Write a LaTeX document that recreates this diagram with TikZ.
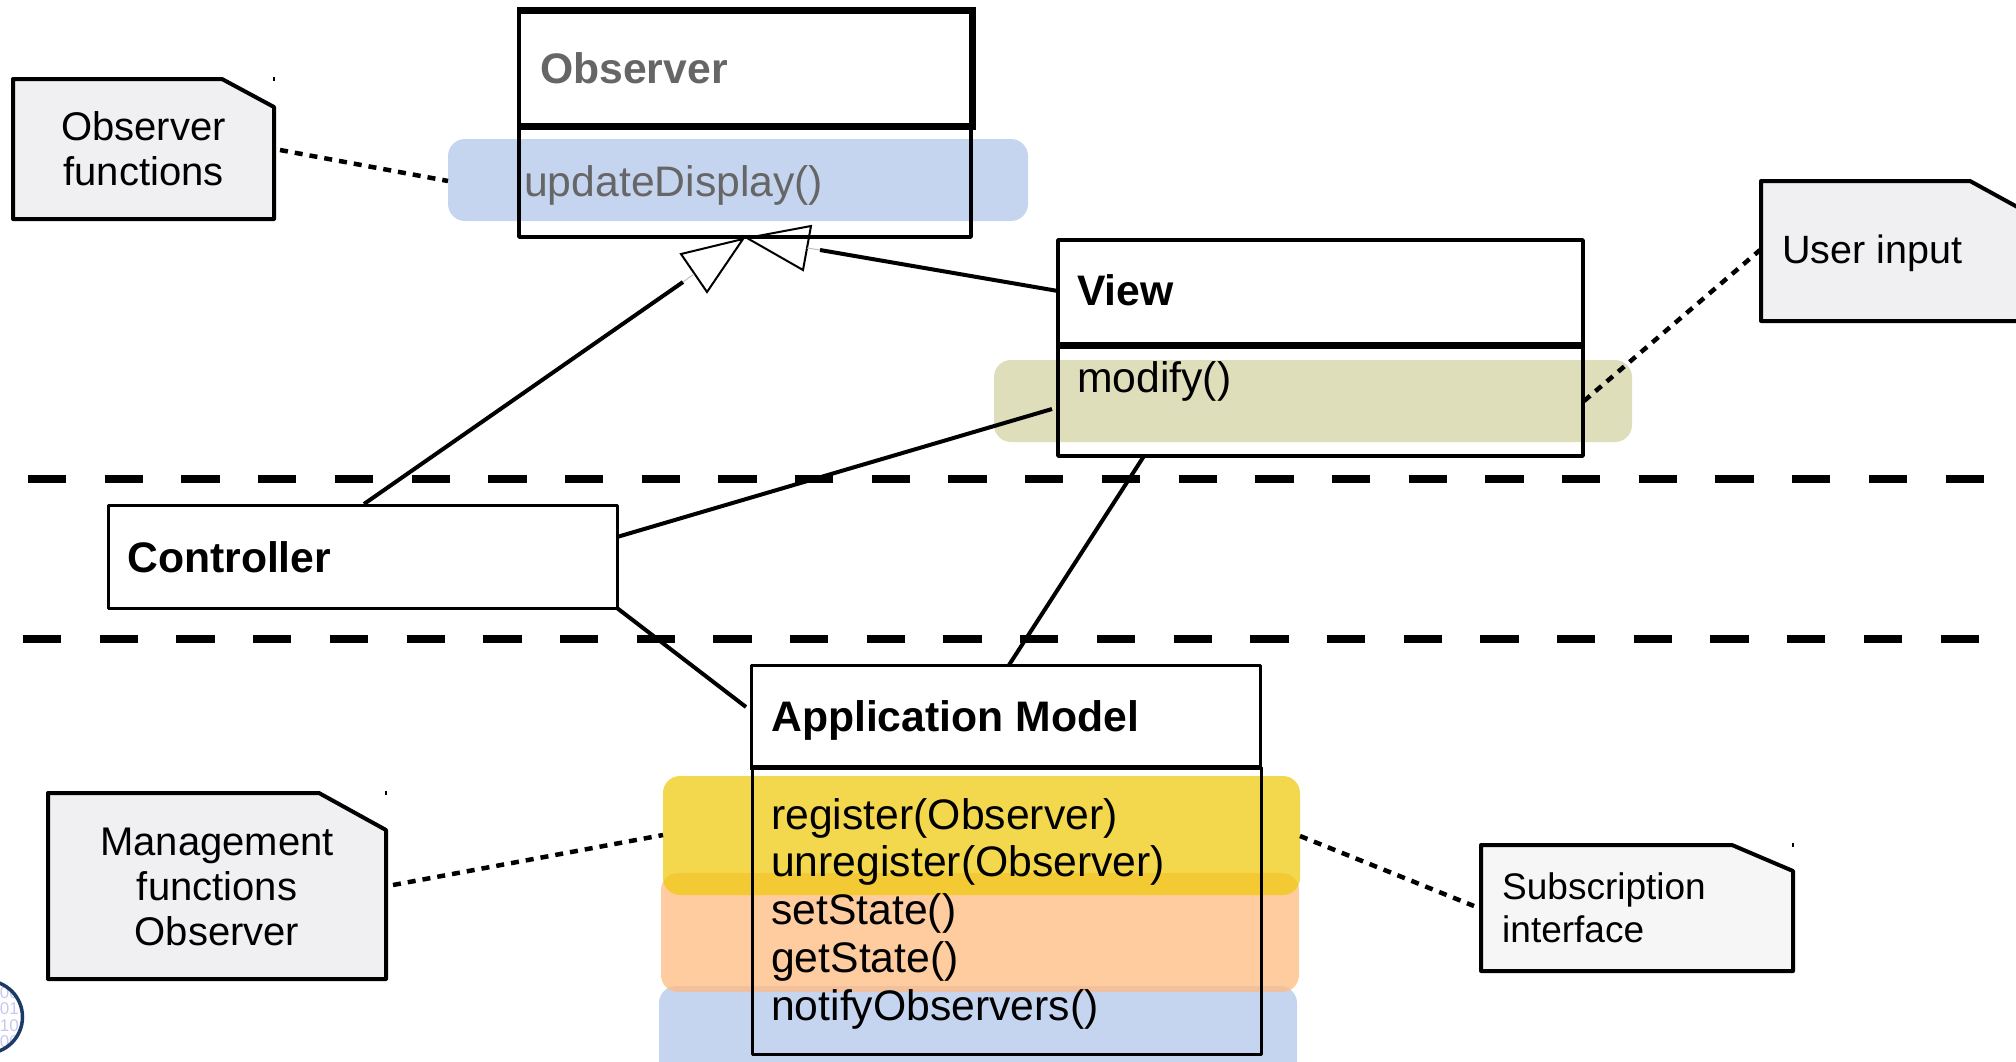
\documentclass[tikz,border=0pt]{standalone}
\usepackage{fontspec}
\setmainfont{Liberation Sans}
\usepackage{tikz}
\usetikzlibrary{positioning,calc}
\definecolor{notegrey}{HTML}{F0F0F3}
\definecolor{notelight}{HTML}{F6F6F6}
\definecolor{hiblue}{HTML}{B2C7EB}
\definecolor{hiolive}{HTML}{D3D3A4}
\definecolor{hiyellow}{HTML}{EFCA10}
\definecolor{hiorange}{HTML}{FFBB80}
\definecolor{logoblue}{HTML}{1B3A66}
\definecolor{logotext}{HTML}{C8C8F0}
\tikzset{
    classbox/.style={rectangle,draw,line width=3.5pt,inner sep=0pt,line join=round},
    headbox/.style={classbox,fill=white},
    notebox/.style={line width=4pt,line join=round,draw=black},
    notetick/.style={line width=1.5pt},
    notetext/.style={rectangle,inner sep=0pt,align=center,font=\fontsize{40}{45}\selectfont},
    title/.style={anchor=base west,inner sep=0pt,font=\fontsize{42.7}{48}\selectfont\bfseries},
    method/.style={anchor=base west,inner sep=0pt,font=\fontsize{42.7}{48}\selectfont},
    hilite/.style={rounded corners=17pt,opacity=0.75},
    assoc/.style={line width=4pt},
    ghost/.style={line width=1pt,black!25},
    dotline/.style={line width=4.5pt,dash pattern=on 8pt off 7pt},
    sepline/.style={line width=8pt,dash pattern=on 38.35pt off 38.35pt},
    inherit/.style={draw,fill=white,line width=2pt,line join=miter},
}
\begin{document}
\begin{tikzpicture}[x=1pt,y=-1pt]
    \clip (0,0) rectangle (2016,1061);
    % highlights
    \fill[hiblue,hilite] (448,139) rectangle (1028,221);
    \fill[hiolive,hilite] (994,360) rectangle (1632,442);
    \fill[hiblue,hilite] (659,986) rectangle (1297,1090);
    \fill[hiorange,hilite] (661,873) rectangle (1299,992);
    \fill[hiyellow,hilite] (663,776) rectangle (1300,895);

    % arrow heads go under the class frame
    \coordinate (ctrltip) at (743,239);
    \coordinate (viewtip) at (747,238);
    \coordinate (ctrla) at (681,254);
    \coordinate (ctrlb) at (707,292);
    \coordinate (viewa) at (811,226);
    \coordinate (viewb) at (803,270);
    \draw[inherit] (viewtip) -- (viewa) -- (viewb) -- cycle;
    \draw[inherit] (ctrltip) -- (ctrla) -- (ctrlb) -- cycle;

    % classes
    \node[headbox,minimum width=452pt,minimum height=113pt] (observer) at (745,68.5) {};
    \node[classbox,minimum width=452pt,minimum height=112pt] (observerops) at (745,181) {};
    \node[headbox,minimum width=525pt,minimum height=104pt] (view) at (1320.5,292) {};
    \node[classbox,minimum width=525pt,minimum height=112pt] (viewops) at (1320.5,400) {};
    \node[headbox,line width=3pt,minimum width=509pt,minimum height=103pt] (controller) at (362.5,556.5) {};
    \node[headbox,line width=3pt,minimum width=509pt,minimum height=101pt] (model) at (1005.5,715.5) {};
    \node[classbox,line width=3pt,minimum width=509pt,minimum height=287pt] (modelops) at (1006.5,910.5) {};
    \draw[line width=6pt] (observer.north west) -- (observer.north east) -- (observer.south east) -- (observer.south west);
    \draw[line width=6pt] (view.south west) -- (view.south east);
    \draw[line width=5pt] (model.south west) -- (model.south east);

    \node[title,text=black!60] (observertitle) at (540,83) {Observer};
    \node[method,text=black!60] (update) at (524,196) {updateDisplay()};
    \node[title] (viewtitle) at (1077,305) {View};
    \node[method] (modify) at (1077,392) {modify()};
    \node[title] (controllertitle) at (127,572) {Controller};
    \node[title] (modeltitle) at (771,731) {Application Model};
    \node[method] (register) at (771,829) {register(Observer)};
    \node[method] (unregister) at (771,876) {unregister(Observer)};
    \node[method] (setstate) at (771,924) {setState()};
    \node[method] (getstate) at (771,972) {getState()};
    \node[method] (notify) at (771,1020) {notifyObservers()};

    % notes
    \draw[notebox,fill=notegrey] (13,79) -- (222,79) -- (274,107) -- (274,219) -- (13,219) -- cycle;
    \draw[notebox,fill=notegrey] (1761,181) -- (1970,181) -- (2021,209) -- (2021,321) -- (1761,321) -- cycle;
    \draw[notebox,fill=notegrey] (48,793) -- (319,793) -- (386,830) -- (386,979) -- (48,979) -- cycle;
    \draw[notebox,fill=notelight] (1481,845) -- (1732,845) -- (1793,871) -- (1793,971) -- (1481,971) -- cycle;
    \draw[notetick] (274,77) -- (274,81) (386,791) -- (386,795) (1793,843) -- (1793,847);
    \node[notetext] (obsnote) at (143.5,149) {Observer\\functions};
    \node[notetext,anchor=west,font=\fontsize{39.5}{45}\selectfont] (usernote) at (1782,253.5) {User input};
    \node[notetext] (mgmtnote) at (217,886.5) {Management\\functions\\Observer};
    \node[notetext,anchor=west,align=left,font=\fontsize{37}{43}\selectfont] (subnote) at (1502,908) {Subscription\\interface};

    % connector ends
    \coordinate (ctrlup) at (364,504);
    \coordinate (ctrlend) at (683,282);
    \coordinate (ctrlbase) at (694,274);
    \coordinate (viewleft) at (1058,291);
    \coordinate (viewend) at (820,250);
    \coordinate (viewbase) at (807,248);
    \coordinate (ctrlright) at (617,537);
    \coordinate (viewin) at (1052,409);
    \coordinate (ctrlcorner) at (617,608);
    \coordinate (modelleft) at (746,707);
    \coordinate (viewlow) at (1144,456);
    \coordinate (modeltop) at (1009,665);
    \coordinate (obsnoteend) at (280,150);
    \coordinate (obshi) at (448,181);
    \coordinate (viewhi) at (1584,401);
    \coordinate (userend) at (1760,250);
    \coordinate (mgmtend) at (393,885);
    \coordinate (reghi) at (663,835);
    \coordinate (reghiright) at (1300,836);
    \coordinate (subend) at (1474,906);

    \draw[assoc] (ctrlup) -- (ctrlend);
    \draw[ghost] (ctrlend) -- (ctrlbase);
    \draw[assoc] (viewleft) -- (viewend);
    \draw[ghost] (viewend) -- (viewbase);
    \draw[assoc] (ctrlright) -- (viewin);
    \draw[assoc] (ctrlcorner) -- (modelleft);
    \draw[assoc] (viewlow) -- (modeltop);

    \draw[dotline] (obsnoteend) -- (obshi);
    \draw[dotline] (viewhi) -- (userend);
    \draw[dotline] (mgmtend) -- (reghi);
    \draw[dotline] (reghiright) -- (subend);

    % layer lines
    \coordinate (upperl) at (28,478.5);
    \coordinate (upperr) at (1987,478.5);
    \coordinate (lowerl) at (23,639);
    \coordinate (lowerr) at (1980,639);
    \draw[sepline] (upperl) -- (upperr);
    \draw[sepline] (lowerl) -- (lowerr);

    % logo
    \begin{scope}
        \clip (-14,1017) circle (36.5pt);
        \node[inner sep=0pt,anchor=east,align=right,text=logotext,font=\fontsize{17}{16.5}\selectfont] (logobits) at (19,1017) {00\\01\\10\\00};
    \end{scope}
    \node[circle,draw=logoblue,line width=3.5pt,minimum size=73pt,inner sep=0pt] (logo) at (-14,1017) {};
\end{tikzpicture}
\end{document}
